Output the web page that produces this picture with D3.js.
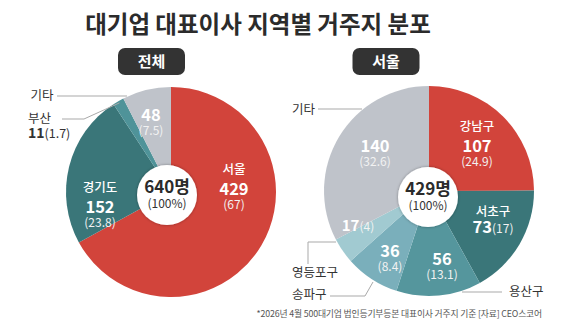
<!DOCTYPE html>
<html><head><meta charset="utf-8">
<script src="https://cdn.jsdelivr.net/npm/d3@7"></script>
<style>
html,body{margin:0;padding:0;background:#fff;}
svg{display:block;font-family:"Noto Sans CJK KR","Noto Sans",sans-serif;}
</style></head>
<body>
<svg id="c" width="580" height="332"></svg>
<script>
// ---- data ----
const totalCategories = ["서울","경기도","부산","기타"];
const totalValues = [429,152,11,48];
const totalPcts = ["67","23.8","1.7","7.5"];
const seoulCategories = ["강남구","서초구","용산구","송파구","영등포구","기타"];
const seoulValues = [107,73,56,36,17,140];
const seoulPcts = ["24.9","17","13.1","8.4","4","32.6"];
const totalColors = ["#d2443b","#3a7679","#4f9399","#bfc3ca"];
const seoulColors = ["#d2443b","#3a7679","#55969d","#7aafbb","#a1cad1","#bfc3ca"];

const svg = d3.select("#c");
svg.append("defs").append("filter").attr("id","sh").attr("x","-30%").attr("y","-30%").attr("width","160%").attr("height","160%")
  .html('<feDropShadow dx="0" dy="0" stdDeviation="1.5" flood-color="#000" flood-opacity="0.35"/>');

// title
svg.append("text").attr("x",258).attr("y",33).attr("text-anchor","middle")
  .attr("font-size",23.5).attr("font-weight",700).attr("fill","#2b2b2b").text("대기업 대표이사 지역별 거주지 분포");

// pills
[["전체",151.5],["서울",386]].forEach(([t,x])=>{
  svg.append("rect").attr("x",x-33.5).attr("y",48).attr("width",67).attr("height",27).attr("rx",7).attr("fill","#333");
  svg.append("text").attr("x",x).attr("y",61.5).attr("dy","0.35em").attr("text-anchor","middle")
    .attr("font-size",15).attr("font-weight",700).attr("fill","#fff").text(t);
});

function drawPie(cx, cy, R, vals, colors){
  const pie = d3.pie().sort(null).value(d=>d)(vals);
  const arc = d3.arc().innerRadius(0).outerRadius(R);
  const g = svg.append("g").attr("transform",`translate(${cx},${cy})`);
  g.selectAll("path").data(pie).join("path").attr("d",arc).attr("fill",(d,i)=>colors[i]);
  return {pie, cx, cy, R};
}
const L = drawPie(171,192,105,totalValues,totalColors);
const Rp = drawPie(429,191,105,seoulValues,seoulColors);

function centerCircle(x,y,r,total){
  svg.append("circle").attr("cx",x).attr("cy",y).attr("r",r).attr("fill","#fff").attr("filter","url(#sh)");
  svg.append("text").attr("x",x).attr("y",y-8).attr("dy","0.35em").attr("text-anchor","middle")
    .attr("font-size",17).attr("font-weight",700).attr("fill","#2b2b2b").text(total+"명");
  svg.append("text").attr("x",x).attr("y",y+9).attr("dy","0.35em").attr("text-anchor","middle")
    .attr("font-size",12).attr("fill","#333").text("(100%)");
}
centerCircle(167,195,30,d3.sum(totalValues));
centerCircle(428,197,30,d3.sum(seoulValues));

function t(x,y,txt,opt={}){
  return svg.append("text").attr("x",x).attr("y",y).attr("dy","0.35em")
    .attr("text-anchor",opt.anchor||"middle").attr("font-size",opt.size||13)
    .attr("font-weight",opt.weight||400).attr("fill",opt.fill||"#fff").text(txt);
}
function inLabel(x,y,name,val,pct){
  let yy=y;
  if(name){ t(x,yy,name,{size:12.5,weight:500}); yy+=19; }
  t(x,yy,val,{size:16.5,weight:700});
  t(x,yy+16,"("+pct+")",{size:12,fill:"#f2f2f2"});
}
// left pie labels
inLabel(234,170,totalCategories[0],totalValues[0],totalPcts[0]);
inLabel(100,188,totalCategories[1],totalValues[1],totalPcts[1]);
inLabel(151,115,null,totalValues[3],totalPcts[3]);
t(42,96,totalCategories[3],{size:12.5,fill:"#333"});
t(28,119,totalCategories[2],{size:12.5,fill:"#333",anchor:"start"});
const bs = t(28,134,"",{size:12.5,fill:"#333",anchor:"start"});
bs.append("tspan").attr("font-weight",700).attr("font-size",14).text(totalValues[2]);
bs.append("tspan").text("("+totalPcts[2]+")");

// right pie labels
inLabel(477,127,seoulCategories[0],seoulValues[0],seoulPcts[0]);
inLabel(375,146,null,seoulValues[5],seoulPcts[5]);
inLabel(442,259,null,seoulValues[2],seoulPcts[2]);
inLabel(390,251,null,seoulValues[3],seoulPcts[3]);
t(493,212,seoulCategories[1],{size:12.5,weight:500});
const sc = t(493,229,"",{size:12});
sc.append("tspan").attr("font-weight",700).attr("font-size",16.5).text(seoulValues[1]);
sc.append("tspan").attr("fill","#f2f2f2").text("("+seoulPcts[1]+")");
const yd = t(358,227,"",{size:12});
yd.append("tspan").attr("font-weight",700).attr("font-size",15).text(seoulValues[4]);
yd.append("tspan").attr("fill","#f2f2f2").text("("+seoulPcts[4]+")");

t(292,110,seoulCategories[5],{size:12.5,fill:"#333",anchor:"start"});
t(292,273,seoulCategories[4],{size:12.5,fill:"#333",anchor:"start"});
t(292,295,seoulCategories[3],{size:12.5,fill:"#333",anchor:"start"});
t(509,292,seoulCategories[2],{size:12.5,fill:"#333",anchor:"start"});

// leader lines; the 부산 one ends on its slice edge
const bsl = L.pie[2], bang = (bsl.startAngle+bsl.endAngle)/2;
const bx = L.cx + (L.R-2)*Math.sin(bang), by = L.cy - (L.R-2)*Math.cos(bang);
const lines = ["M57,96H127",`M62,119H84L${bx.toFixed(1)},${by.toFixed(1)}`,"M318,109H362","M336,242H308V264","M330,296H365L373,282","M462,292H502"];
svg.selectAll("path.ld").data(lines).join("path").attr("class","ld").attr("d",d=>d)
  .attr("fill","none").attr("stroke","#a9a9a9").attr("stroke-width",1);

// footer
svg.append("text").attr("x",542).attr("y",317).attr("text-anchor","end").attr("font-size",8.8).attr("fill","#555")
  .attr("letter-spacing","-0.15")
  .text("*2026년 4월 500대기업 법인등기부등본 대표이사 거주지 기준  [자료] CEO스코어");
</script>
</body></html>
